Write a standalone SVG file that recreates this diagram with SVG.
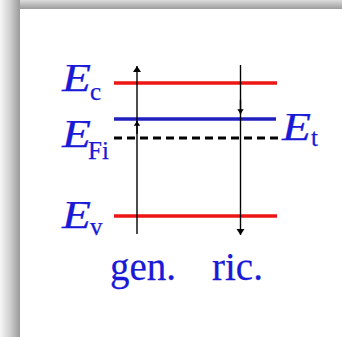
<svg xmlns="http://www.w3.org/2000/svg" width="342" height="337" viewBox="0 0 342 337">
<defs>
<linearGradient id="gl" x1="0" y1="0" x2="1" y2="0">
<stop offset="0" stop-color="#f7f7f7"/>
<stop offset="0.5" stop-color="#d0d0d0"/>
<stop offset="1" stop-color="#9a9a9a"/>
</linearGradient>
<linearGradient id="gt" x1="0" y1="0" x2="0" y2="1">
<stop offset="0" stop-color="#dcdcdc"/>
<stop offset="1" stop-color="#9c9c9c"/>
</linearGradient>
<marker id="ah" viewBox="0 0 6 10" refX="6" refY="5" markerWidth="6" markerHeight="11" markerUnits="userSpaceOnUse" orient="auto">
<path d="M0,1 L6,5 L0,9 z" fill="#000"/>
</marker>
<marker id="ahs" viewBox="0 0 6 10" refX="6" refY="5" markerWidth="6" markerHeight="8" markerUnits="userSpaceOnUse" orient="auto">
<path d="M0,1 L6,5 L0,9 z" fill="#000"/>
</marker>
</defs>
<style>
.lbl{font-family:"Liberation Serif","Times New Roman",serif;fill:#1a1ad6;stroke:#1a1ad6;stroke-width:0.25}
.E{font-size:40px;font-style:italic}
.sub{font-size:25px}
.cap{font-size:39px}
.red{stroke:#ee1515;stroke-width:3.5}
.blue{stroke:#2020c0;stroke-width:3.5}
.dash{stroke:#000;stroke-width:3;stroke-dasharray:8 5}
.ar{stroke:#000;stroke-width:1.4;fill:none}
</style>
<rect width="342" height="337" fill="#fff"/>
<rect x="0" y="0" width="342" height="9" fill="url(#gt)"/>
<rect x="0" y="0" width="20" height="337" fill="url(#gl)"/>

<g id="levels">
<line class="red" x1="114" y1="83" x2="277" y2="83"/>
<line class="blue" x1="114" y1="119" x2="276" y2="119"/>
<line class="dash" x1="114" y1="138" x2="279" y2="138"/>
<line class="red" x1="114" y1="216" x2="277" y2="216"/>
</g>

<g id="connectors">
<line class="ar" x1="137" y1="234" x2="137" y2="66" marker-end="url(#ah)"/>
<line class="ar" x1="137" y1="134" x2="137" y2="121" marker-end="url(#ahs)"/>
<line class="ar" x1="240.5" y1="65" x2="240.5" y2="235" marker-end="url(#ah)"/>
<line class="ar" x1="240.5" y1="100" x2="240.5" y2="114" marker-end="url(#ahs)"/>
</g>

<g id="Ec"><text class="lbl E" x="62" y="91" textLength="29" lengthAdjust="spacingAndGlyphs">E</text><text class="lbl sub" x="90" y="100">c</text></g>
<g id="EFi"><text class="lbl E" x="62" y="147" textLength="29" lengthAdjust="spacingAndGlyphs">E</text><text class="lbl sub" x="88" y="159">Fi</text></g>
<g id="Ev"><text class="lbl E" x="62" y="228" textLength="29" lengthAdjust="spacingAndGlyphs">E</text><text class="lbl sub" x="90" y="235">v</text></g>
<g id="Et"><text class="lbl E" x="282" y="140" textLength="29" lengthAdjust="spacingAndGlyphs">E</text><text class="lbl sub" x="311" y="146">t</text></g>
<g id="gen"><text class="lbl cap" x="110" y="280">gen.</text></g>
<g id="ric"><text class="lbl cap" x="212" y="280">ric.</text></g>
</svg>
